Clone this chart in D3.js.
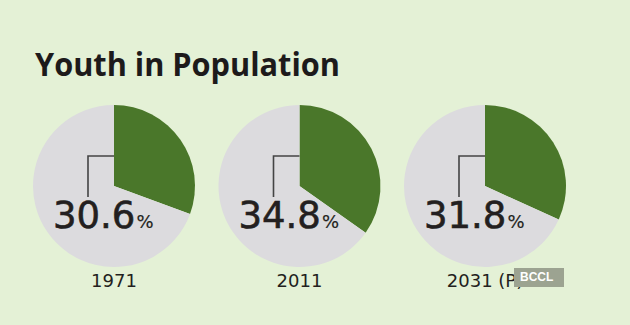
<!DOCTYPE html>
<html>
<head>
<meta charset="utf-8">
<script src="https://cdn.jsdelivr.net/npm/d3@7"></script>
<style>
  html, body { margin: 0; padding: 0; background: #e4f1d6; }
  svg { display: block; }
</style>
</head>
<body>
<svg id="chart" width="630" height="325"></svg>
<script>
// Share of youth in the population, by year
const years = ["1971", "2011", "2031 (P)"];
const youthShare = [30.6, 34.8, 31.8];

const W = 630, H = 325;
const svg = d3.select("#chart");

svg.append("rect").attr("width", W).attr("height", H).attr("fill", "#e4f1d6");

// Title
svg.append("text")
  .attr("x", 35).attr("y", 76)
  .attr("font-family", "'Open Sans', 'DejaVu Sans', sans-serif")
  .attr("font-weight", 700)
  .attr("font-size", 33)
  .attr("fill", "#1d1a1b")
  .attr("textLength", 305)
  .attr("lengthAdjust", "spacingAndGlyphs")
  .text("Youth in Population");

// One pie per year, laid out along a point scale
const x = d3.scalePoint().domain(years).range([114, 485]);
const cy = 186, r = 81;

const pie = d3.pie().sort(null).value(d => d);
const arc = d3.arc().innerRadius(0).outerRadius(r);
const colors = ["#4a772a", "#dcdbde"];

const g = svg.selectAll("g.pie")
  .data(years.map((y, i) => ({ year: y, value: youthShare[i] })))
  .join("g")
  .attr("class", "pie")
  .attr("transform", d => `translate(${x(d.year)},${cy})`);

g.selectAll("path")
  .data(d => pie([d.value, 100 - d.value]))
  .join("path")
  .attr("d", arc)
  .attr("fill", (d, i) => colors[i]);

// Leader line from the wedge edge down to the value label
g.append("path")
  .attr("d", "M0,-30H-26V11")
  .attr("fill", "none")
  .attr("stroke", "#444")
  .attr("stroke-width", 1.6);

// Value label
const label = g.append("text")
  .attr("x", -61).attr("y", 42)
  .attr("font-family", "'DejaVu Sans', sans-serif")
  .attr("fill", "#231f20")
  .attr("stroke", "#231f20");
label.append("tspan")
  .attr("font-size", 37)
  .attr("stroke-width", 0.6)
  .text(d => d3.format(".1f")(d.value));
label.append("tspan")
  .attr("font-size", 18)
  .attr("stroke-width", 0.2)
  .attr("dx", 1)
  .text("%");

// Year label
g.append("text")
  .attr("x", 0).attr("y", 101)
  .attr("text-anchor", "middle")
  .attr("font-family", "'DejaVu Sans', sans-serif")
  .attr("font-size", 18)
  .attr("fill", "#231f20")
  .text(d => d.year);

// Credit badge
const badge = svg.append("g").attr("transform", "translate(514,268)");
badge.append("rect")
  .attr("width", 50).attr("height", 19)
  .attr("fill", "#9ca391");
badge.append("text")
  .attr("x", 6).attr("y", 13)
  .attr("font-family", "'Liberation Sans', Arial, sans-serif")
  .attr("font-weight", 700)
  .attr("font-size", 12)
  .attr("fill", "#ffffff")
  .text("BCCL");
</script>
</body>
</html>
